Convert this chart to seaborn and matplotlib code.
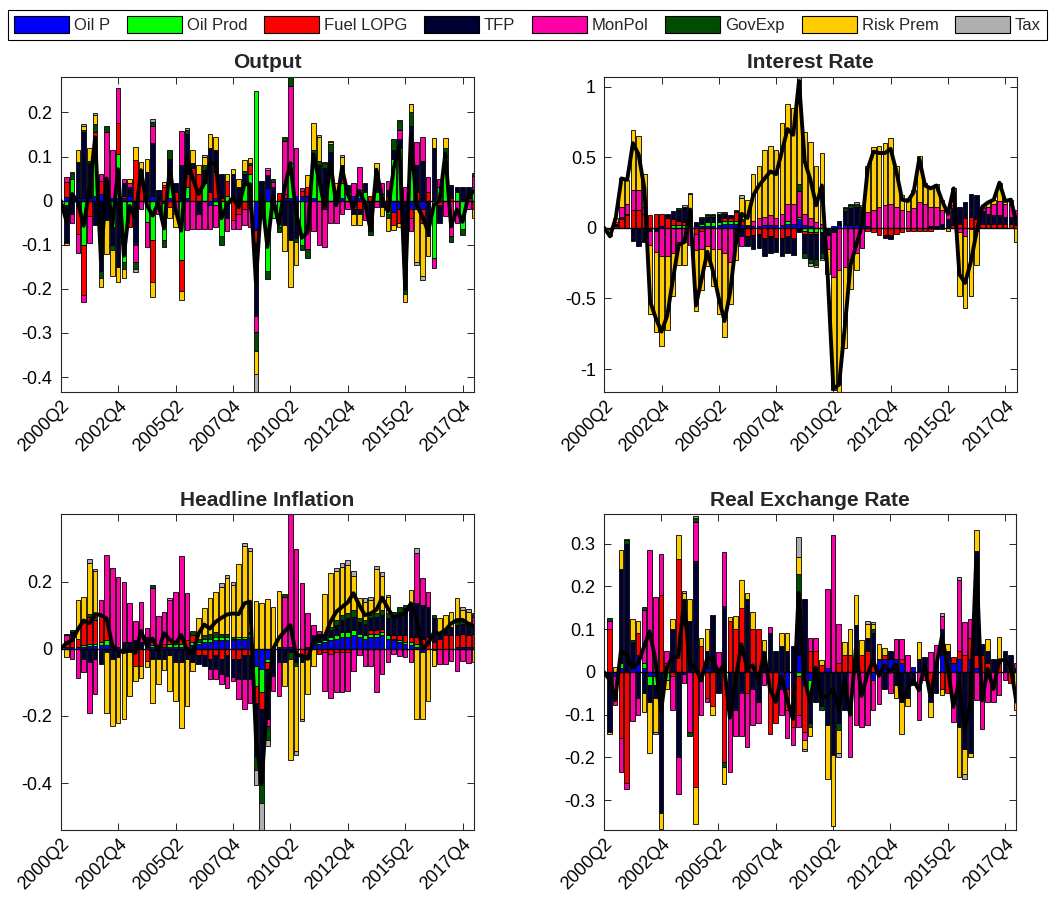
import numpy as np
import pandas as pd
import matplotlib
matplotlib.use("Agg")
import matplotlib.pyplot as plt
from matplotlib.patches import Patch
from matplotlib.ticker import FuncFormatter
import seaborn as sns

# ---------------------------------------------------------------------------
# Historical shock decomposition, 2000Q2-2018Q2 (73 quarters)
# ---------------------------------------------------------------------------
quarters = pd.period_range("2000Q2", periods=73, freq="Q")
tick_labels = ["2000Q2", "2002Q4", "2005Q2", "2007Q4",
               "2010Q2", "2012Q4", "2015Q2", "2017Q4"]

shock_names = ["Oil P", "Oil Prod", "Fuel LOPG", "TFP",
               "MonPol", "GovExp", "Risk Prem", "Tax"]
shock_colors = ["#0000FF", "#00FF00", "#FF0000", "#000033",
                "#FF00A8", "#004C00", "#FFCC00", "#B0B0B0"]

# ----------------------------- Output --------------------------------------
output_oil_p = [
    0, .009, .005, .005, .005, .005, .01, .015, .005, .005,
    .005, .005, .01, 0, 0, .005, .01, 0, -.005, .005,
    0, 0, .005, 0, 0, 0, -.01, .005, 0, 0,
    0, 0, 0, .01, -.066, -.005, .028, 0, 0, .005,
    .005, .01, .01, .01, .005, 0, .005, 0, 0, .005,
    0, .01, .005, 0, 0, 0, 0, 0, -.025, -.02,
    0, -.02, -.02, -.02, 0, 0, 0, 0, 0, 0,
    0, 0, 0]
output_oil_prod = [
    0, -.01, .045, -.01, -.1, 0, .135, 0, 0, -.06,
    .1, -.14, -.02, 0, 0, -.048, -.09, 0, -.085, .07,
    0, -.135, .025, 0, 0, .04, 0, -.01, -.08, .01,
    0, 0, .045, .05, .249, 0, -.16, -.04, -.06, 0,
    .08, 0, -.1, 0, .085, .05, 0, .055, 0, .035,
    .02, 0, .02, .02, 0, .02, .015, -.03, .095, .12,
    0, .07, 0, 0, 0, -.13, .03, .1, 0, .02,
    -.065, 0, .03]
output_fuel = [
    0, .033, 0, -.066, -.113, -.035, .01, .03, .01, 0,
    .07, .005, -.04, .093, .05, 0, -.095, 0, .03, -.015,
    .02, -.07, .03, .075, .06, 0, .02, .06, .005, .035,
    -.045, -.03, -.02, .02, -.03, -.03, 0, .01, .017, .01,
    0, 0, .012, .02, 0, 0, -.02, .015, 0, .02,
    0, -.02, -.02, 0, .01, 0, 0, .01, -.03, -.03,
    0, -.02, .02, -.03, .02, 0, -.01, 0, .005, 0,
    0, .005, -.02]
output_tfp = [
    0, -.083, -.03, .08, .15, .08, -.055, -.16, -.045, -.04,
    -.15, .03, .02, -.1, .02, .06, .12, .025, 0, .02,
    .02, .08, .09, .01, -.03, .03, .1, .05, .055, -.04,
    .06, .03, .015, -.02, -.165, .045, .03, .02, 0, -.055,
    -.09, -.085, 0, 0, .01, .03, .07, .04, .02, .02,
    .015, -.01, -.01, .02, -.07, .03, -.015, .015, .02, .02,
    -.2, .1, .06, .09, -.08, .12, -.04, 0, .03, .01,
    .03, .025, 0]
output_monpol = [
    0, .012, -.02, -.043, -.017, -.06, 0, .015, .14, .11,
    .08, .01, .01, -.04, -.018, -.057, .04, -.03, .005, 0,
    -.03, .077, -.067, -.065, -.035, -.065, -.055, -.05, 0, -.03,
    -.02, -.035, -.035, -.04, -.037, 0, .012, .012, 0, .12,
    .175, .11, .006, -.11, -.07, -.1, -.085, -.05, -.05, -.03,
    -.02, .03, .052, -.045, 0, -.015, .025, .02, 0, .02,
    .03, -.03, .054, .055, .034, -.023, .02, -.036, -.08, -.05,
    0, -.02, .025]
output_govexp = [
    0, -.004, .012, .003, .005, .005, .018, -.015, .015, -.012,
    0, -.015, 0, -.015, 0, 0, .008, 0, -.015, .02,
    0, 0, .01, 0, 0, .01, 0, 0, -.02, 0,
    0, 0, .008, .005, -.042, 0, -.018, .006, -.012, .01,
    .02, -.008, -.012, -.02, .015, .01, .01, .018, 0, 0,
    0, 0, 0, 0, -.008, 0, 0, -.01, .025, .023,
    -.012, .03, 0, 0, 0, 0, 0, .02, -.013, 0,
    -.013, 0, .007]
output_riskprem = [
    0, -.004, .003, .027, .01, .03, .02, -.02, -.075, -.06,
    -.034, -.02, .008, .029, .017, .03, -.033, 0, .007, -.025,
    -.03, -.02, 0, .03, .02, .02, .03, .03, 0, .015,
    .012, .02, .025, .012, -.053, 0, 0, 0, 0, -.06,
    -.105, -.053, 0, .028, .06, .055, 0, .005, .02, .02,
    0, -.025, -.025, 0, 0, .035, -.02, -.03, -.012, -.01,
    -.018, .018, -.12, -.12, -.045, .023, 0, .023, 0, 0,
    0, 0, -.02]
output_tax = [
    0, 0, 0, 0, .003, 0, .005, 0, 0, 0,
    0, 0, 0, -.006, 0, 0, .006, 0, 0, 0,
    0, 0, .004, 0, 0, .004, 0, 0, 0, 0,
    0, 0, 0, 0, -.041, 0, .003, 0, 0, 0,
    0, 0, 0, 0, 0, .003, .003, .003, 0, .004,
    0, 0, 0, 0, 0, 0, 0, 0, 0, 0,
    0, .002, -.005, -.01, 0, 0, 0, 0, 0, 0,
    0, 0, 0]

# --------------------------- Interest Rate ----------------------------------
rate_oil_p = [
    0, 0, 0, 0, 0, 0, 0, 0, 0, 0,
    .01, 0, 0, 0, 0, 0, .01, .01, .01, .01,
    .02, .03, .03, .03, .02, .01, .01, .01, .02, .02,
    .02, .02, .03, .03, .06, .02, .01, 0, 0, 0,
    .01, .02, .02, .02, .02, .02, .01, 0, 0, 0,
    0, 0, 0, 0, 0, 0, 0, 0, 0, 0,
    0, 0, 0, 0, 0, 0, 0, 0, 0, 0,
    0, 0, 0]
rate_oil_prod = [
    0, 0, 0, 0, 0, 0, 0, 0, 0, 0,
    0, 0, .02, .02, .02, .01, 0, .02, .03, .03,
    .02, .02, .02, .02, 0, .01, 0, 0, 0, 0,
    0, 0, .02, 0, .02, -.02, -.03, -.03, -.03, 0,
    0, 0, 0, 0, .01, 0, 0, 0, 0, 0,
    0, 0, 0, 0, 0, 0, 0, 0, 0, 0,
    0, 0, 0, 0, 0, 0, 0, 0, 0, 0,
    0, 0, 0]
rate_fuel = [
    0, 0, .01, .06, .09, .13, .13, .1, .09, .1,
    .09, .07, .04, .03, .02, 0, -.04, -.02, 0, 0,
    0, .02, .02, .06, .03, -.06, -.05, -.04, -.07, -.06,
    -.07, -.07, -.06, -.07, 0, -.02, -.01, -.01, 0, 0,
    0, 0, 0, 0, 0, 0, -.02, -.03, -.05, -.05,
    -.05, -.04, -.03, -.02, -.02, -.02, -.02, -.02, -.01, -.01,
    0, .02, .03, .07, .08, .06, .03, .03, .03, .03,
    .03, .03, .02]
rate_tfp = [
    0, 0, .02, .02, .01, -.09, -.13, -.1, -.02, -.02,
    0, .03, .06, .08, .1, .1, .03, .03, .04, .04,
    .05, .03, .02, -.05, -.06, -.07, -.1, -.1, -.13, -.12,
    -.1, -.13, -.12, -.12, -.03, -.14, -.18, -.18, -.15, -.05,
    -.03, .03, .1, .12, .12, .11, 0, 0, 0, -.02,
    -.03, 0, 0, 0, 0, 0, 0, .01, .01, .03,
    .06, .12, .12, .11, .16, .17, .09, .07, .06, .06,
    .05, .05, .04]
rate_monpol = [
    0, -.01, .01, .07, .07, .14, .14, .05, -.1, -.15,
    -.2, -.2, -.18, -.1, -.1, -.12, -.12, -.13, -.13, -.15,
    -.15, -.18, -.24, -.06, -.07, 0, .04, .06, .06, .07,
    .05, .08, .12, .14, .18, .08, .06, .04, .03, -.1,
    -.32, -.3, -.28, -.23, -.18, -.14, .1, .13, .15, .16,
    .17, .15, .13, .12, .14, .18, .17, .14, .14, .1,
    .06, .02, -.03, -.06, -.01, -.02, .02, .05, .08, .1,
    .09, .08, .07]
rate_govexp = [
    0, 0, 0, 0, 0, 0, 0, 0, 0, 0,
    0, 0, 0, .01, .01, .01, 0, .01, .01, .01,
    .01, .01, 0, .01, .01, 0, 0, 0, 0, 0,
    0, 0, 0, 0, .05, -.03, -.03, -.04, -.03, 0,
    0, 0, .02, .02, .02, .02, 0, 0, 0, 0,
    0, 0, 0, 0, 0, 0, 0, 0, 0, 0,
    0, 0, 0, 0, 0, 0, 0, 0, 0, 0,
    0, 0, 0]
rate_riskprem = [
    0, -.05, .03, .2, .17, .42, .38, .23, -.49, -.57,
    -.635, -.52, -.3, -.16, -.16, .12, -.43, -.29, -.14, -.26,
    -.46, -.59, -.3, -.12, .15, .18, .33, .37, .47, .49,
    .48, .64, .71, .68, .74, .58, .54, .4, .5, -.18,
    -.8, -.86, -.57, -.2, -.12, 0, .33, .44, .43, .44,
    .47, .29, .1, .09, .13, .33, .15, .15, .16, .07,
    -.02, .12, -.45, -.51, -.47, -.24, .01, .03, .03, .13,
    .02, .04, -.1]
rate_tax = [
    0, 0, 0, 0, 0, 0, 0, 0, 0, 0,
    0, 0, 0, 0, .01, .01, 0, .01, .01, .01,
    .01, 0, 0, .01, .02, 0, 0, 0, 0, 0,
    0, 0, 0, 0, .02, 0, -.02, -.02, -.02, 0,
    0, 0, .01, .01, .01, .01, 0, 0, 0, 0,
    0, 0, 0, 0, 0, 0, 0, 0, 0, 0,
    0, 0, 0, 0, 0, 0, 0, 0, 0, 0,
    0, 0, 0]

# -------------------------- Headline Inflation ------------------------------
infl_oil_p = [
    0, .005, .005, .005, .005, .008, .008, .01, .01, .005,
    .005, 0, 0, .005, 0, .005, .005, .005, .005, .005,
    .005, .005, .005, .01, .015, .02, .02, .025, .025, .025,
    .025, .03, .03, .035, -.05, -.06, -.03, 0, .005, .005,
    .005, 0, 0, .005, .01, .015, .02, .025, .03, .035,
    .035, .04, .035, .03, .035, .035, .04, .03, .025, .02,
    .015, .01, .005, -.01, 0, 0, 0, 0, 0, .005,
    .005, .005, .005]
infl_oil_prod = [
    0, 0, 0, 0, .005, .005, .007, .01, .015, 0,
    0, 0, 0, -.01, 0, 0, .005, 0, 0, .01,
    .01, .01, 0, .01, .005, .01, .01, .01, .01, .01,
    .005, .005, .005, .01, -.06, -.07, -.01, 0, 0, 0,
    0, 0, 0, 0, .005, .005, .005, .01, .01, .015,
    .015, .015, .01, .01, .01, .01, .01, .01, .005, .005,
    .005, .01, .01, 0, 0, 0, 0, 0, 0, 0,
    0, 0, 0]
infl_fuel = [
    0, .01, .02, .025, .07, .08, .07, .08, .06, 0,
    0, -.01, -.01, -.04, -.05, -.035, 0, 0, .01, .01,
    0, .02, .02, .02, -.02, -.02, -.03, -.02, -.03, -.02,
    -.03, -.03, -.02, -.02, -.05, -.05, -.02, 0, 0, 0,
    0, -.01, -.02, -.02, 0, -.015, -.01, -.015, -.01, -.01,
    -.01, 0, 0, 0, .01, .01, .01, .005, .01, .015,
    .02, .015, .02, .03, .035, .02, .03, .04, .04, .035,
    .04, .035, .04]
infl_tfp = [
    0, 0, .025, 0, -.03, -.04, -.03, -.045, -.01, -.03,
    -.025, .02, .02, .02, .02, .03, -.03, -.03, -.03, -.02,
    -.04, -.04, -.03, -.04, -.025, -.03, -.03, -.04, -.045, -.06,
    -.055, -.06, -.07, -.07, -.16, -.18, -.15, -.08, -.04, -.04,
    -.01, -.03, -.02, -.01, .025, .02, .015, .02, .03, .035,
    .04, .04, .035, .035, .035, .04, .04, .045, .05, .07,
    .08, .09, .1, .1, .09, .07, .02, .02, .025, .03,
    .03, .03, .03]
infl_monpol = [
    0, .025, -.03, -.087, -.04, -.15, -.105, .045, .195, .235,
    .209, .18, .117, .058, .12, .028, .17, .093, .093, .12,
    .155, .241, .14, 0, 0, 0, -.03, -.03, -.03, -.038,
    -.01, -.06, -.09, -.07, 0, -.02, -.02, -.045, -.1, .15,
    .395, .296, .195, .1, .03, .013, -.115, -.13, -.12, -.12,
    -.115, -.065, -.02, -.05, -.05, -.13, -.075, -.04, -.015, -.023,
    -.025, -.04, .15, .08, .045, -.005, -.045, -.045, -.035, -.065,
    -.037, -.043, .02]
infl_govexp = [
    0, .003, .005, 0, 0, .01, .015, 0, 0, 0,
    0, 0, 0, 0, 0, 0, .01, 0, 0, 0,
    0, 0, 0, .013, .01, .012, .015, .015, .01, .01,
    .005, 0, 0, .005, -.04, -.08, -.04, 0, 0, .007,
    -.02, -.01, 0, 0, 0, 0, .005, .01, .015, .015,
    .015, .02, .01, .01, .01, .01, .015, .015, .018, .013,
    .01, .01, 0, 0, 0, .01, 0, 0, 0, .01,
    .01, .01, .01]
infl_riskprem = [
    0, -.026, 0, .115, .074, .153, .13, 0, -.18, -.2,
    -.195, -.2, -.13, -.045, -.037, -.02, -.13, -.075, -.032, -.105,
    -.115, -.195, -.14, -.027, .06, .08, .105, .12, .14, .165,
    .155, .218, .27, .24, .142, .137, .147, .125, .167, -.07,
    -.3, -.255, -.17, -.105, -.05, 0, .117, .16, .145, .144,
    .143, .1, .06, .055, .045, .131, .1, .05, 0, 0,
    0, .04, -.21, -.2, -.155, -.047, .04, .04, .045, .07,
    .03, .03, -.04]
infl_tax = [
    0, 0, 0, 0, 0, .01, .008, 0, 0, 0,
    0, 0, 0, 0, 0, 0, 0, 0, 0, .007,
    0, 0, 0, 0, 0, 0, 0, 0, .012, .01,
    .01, 0, .01, .01, -.045, -.08, -.02, 0, 0, 0,
    0, -.01, -.005, 0, 0, 0, 0, 0, .01, .01,
    .015, .015, 0, .01, .01, .01, .012, .005, 0, 0,
    0, 0, .015, 0, 0, 0, 0, 0, 0, 0,
    .008, .008, 0]

# -------------------------- Real Exchange Rate ------------------------------
rer_oil_p = [
    0, 0, -.01, .01, 0, .01, .04, .01, -.01, -.01,
    0, 0, 0, 0, -.005, 0, 0, 0, .01, 0,
    0, 0, 0, 0, 0, 0, 0, 0, 0, 0,
    0, -.04, -.04, -.03, .04, -.03, -.02, 0, 0, .01,
    0, 0, 0, 0, 0, 0, 0, -.02, .03, .03,
    .03, .03, .02, 0, .012, 0, .02, 0, .02, .04,
    .03, .02, .03, 0, .03, .01, 0, 0, 0, 0,
    0, 0, 0]
rer_oil_prod = [
    0, 0, 0, .01, 0, 0, 0, .01, -.02, -.02,
    0, -.02, 0, 0, 0, 0, 0, 0, 0, 0,
    0, 0, 0, 0, 0, 0, 0, 0, 0, 0,
    0, 0, 0, 0, -.01, 0, -.03, -.01, 0, 0,
    0, 0, 0, 0, 0, 0, 0, 0, 0, 0,
    0, 0, 0, 0, 0, 0, 0, 0, 0, 0,
    0, 0, 0, 0, 0, 0, 0, 0, 0, 0,
    0, 0, 0]
rer_fuel = [
    0, .1, 0, -.155, -.26, 0, .05, 0, 0, 0,
    .18, .02, -.01, .265, .11, 0, -.27, .06, -.06, -.08,
    0, -.21, .12, .1, .15, -.05, .1, .1, 0, -.145,
    -.12, 0, -.05, -.1, -.09, -.11, .05, .05, .015, 0,
    0, .02, .04, .04, 0, .04, .05, .03, 0, .01,
    0, 0, .01, 0, 0, 0, 0, -.03, 0, -.04,
    -.05, .015, .02, .04, .05, .03, .04, .02, 0, .02,
    0, -.025, 0]
rer_tfp = [
    0, -.14, 0, .22, .3, .06, -.06, -.05, -.04, -.03,
    -.33, 0, .1, -.2, .06, .12, .26, 0, .04, .133,
    -.05, .155, -.1, -.09, -.05, .17, -.04, -.07, .04, .09,
    .05, .06, .05, .06, .13, .17, -.07, -.06, -.08, -.125,
    -.195, -.12, -.09, 0, .11, 0, .03, .06, 0, -.04,
    .02, -.03, -.07, -.06, -.03, .03, .015, -.04, -.05, .06,
    .02, 0, -.13, -.18, -.19, .242, .026, .03, .03, 0,
    .048, .04, .01]
rer_monpol = [
    0, .02, -.068, -.08, -.013, -.115, -.04, .125, .285, .175,
    .095, .03, -.08, -.085, -.02, -.14, .09, -.1, -.01, 0,
    .047, .125, -.135, -.06, -.1, -.125, -.085, -.05, -.03, .015,
    0, -.06, -.065, -.04, -.03, -.02, .03, .03, 0, .184,
    .32, .093, 0, -.2, -.125, -.13, -.125, -.07, -.075, 0,
    -.05, .048, .048, .04, 0, -.113, -.02, .047, .043, .03,
    0, -.117, .165, .077, .045, -.066, -.133, -.07, -.07, -.055,
    -.02, 0, .01]
rer_govexp = [
    0, .007, 0, 0, .008, .005, 0, .008, 0, 0,
    0, 0, 0, 0, 0, -.01, .01, 0, 0, 0,
    0, -.012, 0, 0, 0, 0, 0, 0, 0, 0,
    0, 0, 0, 0, .06, 0, -.01, 0, -.01, 0,
    0, -.015, 0, 0, 0, 0, 0, .01, 0, 0,
    0, 0, 0, 0, 0, 0, 0, 0, 0, 0,
    0, 0, 0, 0, 0, 0, 0, 0, 0, .01,
    0, 0, 0]
rer_riskprem = [
    0, -.005, .012, .045, 0, .05, .03, -.045, -.12, -.08,
    -.037, -.02, .025, .055, .015, .05, -.085, .02, .05, -.02,
    0, -.04, .008, .03, .065, .015, .04, 0, .035, 0,
    0, .03, .04, 0, .04, -.02, -.02, 0, .012, -.125,
    -.165, -.055, .03, .06, .07, .034, .033, .012, .036, .015,
    0, -.03, -.075, -.02, 0, .04, 0, -.035, 0, -.015,
    .016, 0, -.115, -.06, -.01, .05, 0, .027, 0, .052,
    0, 0, -.09]
rer_tax = [
    0, 0, 0, 0, .004, 0, 0, 0, 0, -.005,
    0, 0, 0, 0, .005, 0, .005, 0, 0, 0,
    0, 0, 0, 0, 0, 0, 0, 0, 0, 0,
    0, 0, 0, 0, .045, -.005, 0, 0, 0, 0,
    0, -.01, 0, 0, 0, 0, .005, .005, 0, 0,
    0, 0, 0, 0, 0, 0, 0, 0, 0, .007,
    0, 0, .007, -.01, 0, 0, 0, 0, 0, 0,
    0, 0, 0]

panels = [
    ("Output", [output_oil_p, output_oil_prod, output_fuel, output_tfp,
                output_monpol, output_govexp, output_riskprem, output_tax],
     (-0.434, 0.281), [-0.4, -0.3, -0.2, -0.1, 0, 0.1, 0.2]),
    ("Interest Rate", [rate_oil_p, rate_oil_prod, rate_fuel, rate_tfp,
                       rate_monpol, rate_govexp, rate_riskprem, rate_tax],
     (-1.163, 1.071), [-1, -0.5, 0, 0.5, 1]),
    ("Headline Inflation", [infl_oil_p, infl_oil_prod, infl_fuel, infl_tfp,
                            infl_monpol, infl_govexp, infl_riskprem, infl_tax],
     (-0.539, 0.400), [-0.4, -0.2, 0, 0.2]),
    ("Real Exchange Rate", [rer_oil_p, rer_oil_prod, rer_fuel, rer_tfp,
                            rer_monpol, rer_govexp, rer_riskprem, rer_tax],
     (-0.370, 0.369), [-0.3, -0.2, -0.1, 0, 0.1, 0.2, 0.3]),
]

# ----------------------------- styling --------------------------------------
sns.set_style("ticks")
plt.rcParams["font.family"] = ["Liberation Sans", "DejaVu Sans"]
plt.rcParams["axes.unicode_minus"] = False
AX_COLOR = "#262626"

fig = plt.figure(figsize=(10.52, 9.0), dpi=100)
positions = [
    [0.0577, 0.5644, 0.3929, 0.3504],
    [0.5744, 0.5644, 0.3920, 0.3504],
    [0.0577, 0.0778, 0.3929, 0.3508],
    [0.5739, 0.0778, 0.3922, 0.3508],
]

x = np.arange(1, len(quarters) + 1)
tick_pos = [quarters.get_loc(pd.Period(t, freq="Q")) + 1 for t in tick_labels]


def draw_panel(ax, title, series, ylim, yticks):
    frame = pd.DataFrame(dict(zip(shock_names, series)), index=x)
    pos_base = np.zeros(len(frame))
    neg_base = np.zeros(len(frame))
    for name, color in zip(shock_names, shock_colors):
        vals = frame[name].to_numpy(dtype=float)
        up = np.where(vals > 0, vals, 0.0)
        dn = np.where(vals < 0, vals, 0.0)
        m = up > 0
        ax.bar(x[m], up[m], bottom=pos_base[m], width=0.8, color=color,
               edgecolor="black", linewidth=0.6, zorder=2)
        m = dn < 0
        ax.bar(x[m], dn[m], bottom=neg_base[m], width=0.8, color=color,
               edgecolor="black", linewidth=0.6, zorder=2)
        pos_base += up
        neg_base += dn
    ax.axhline(0, color="black", linewidth=1.0, zorder=3)
    total = frame.sum(axis=1).to_numpy()
    sns.lineplot(x=x, y=total, ax=ax, color="black", linewidth=2.8,
                 zorder=4, legend=False)

    ax.set_xlim(1, len(x))
    ax.set_ylim(*ylim)
    ax.set_xticks(tick_pos)
    ax.set_xticklabels(tick_labels, rotation=45, ha="right",
                       rotation_mode="anchor")
    ax.set_yticks(yticks)
    ax.yaxis.set_major_formatter(FuncFormatter(lambda v, p: f"{v:g}"))
    ax.tick_params(direction="in", top=True, right=True, length=5,
                   width=0.7, colors=AX_COLOR, labelsize=13, pad=6)
    ax.tick_params(axis="x", pad=4)
    for lab in ax.get_xticklabels() + ax.get_yticklabels():
        lab.set_color("black")
    for sp in ax.spines.values():
        sp.set_visible(True)
        sp.set_color(AX_COLOR)
        sp.set_linewidth(0.8)
    ax.set_xlabel("")
    ax.set_ylabel("")
    ax.set_title(title, fontsize=15, fontweight="bold", pad=6)


for pos, (title, series, ylim, yticks) in zip(positions, panels):
    ax = fig.add_axes(pos)
    draw_panel(ax, title, series, ylim, yticks)

handles = [Patch(facecolor=c, edgecolor="black", linewidth=0.8)
           for c in shock_colors]
leg = fig.legend(handles, shock_names, loc="upper center", ncol=8,
                 bbox_to_anchor=(0.5014, 1 - 10 / 900),
                 borderaxespad=0, fancybox=False, edgecolor="black",
                 framealpha=1, fontsize=12, handlelength=3.3,
                 handleheight=1.15, handletextpad=0.3, columnspacing=1.0,
                 borderpad=0.38)
leg.get_frame().set_linewidth(0.8)

fig.savefig("out.png", dpi=100)
